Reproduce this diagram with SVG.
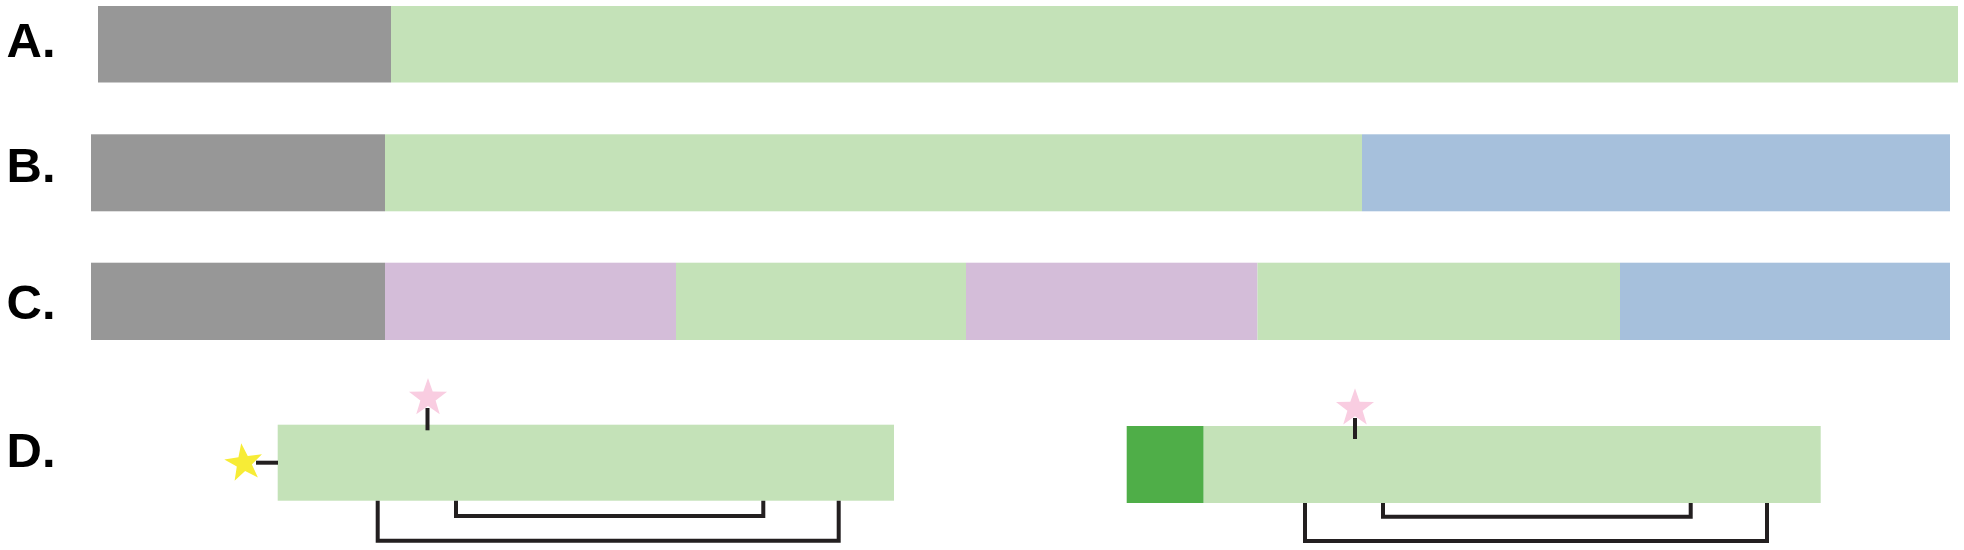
<svg xmlns="http://www.w3.org/2000/svg" width="1964" height="550" viewBox="0 0 1964 550">
<style>
.lbl{font-family:"Liberation Sans",Arial,sans-serif;font-weight:bold;font-size:49px;fill:#000}
.gray{fill:#979797}
.lg{fill:#c4e2b8}
.bl{fill:#a6c0dc}
.pu{fill:#d4bdd9}
.dg{fill:#4fae48}
.yel{fill:#f7ec36}
.pink{fill:#f9cde1}
.ln{fill:none;stroke:#231f20;stroke-width:4}
</style>
<defs>
<path id="star" d="M0,-20 L4.7,-6.47 L19.02,-6.18 L7.61,2.47 L11.76,16.18 L0,8 L-11.76,16.18 L-7.61,2.47 L-19.02,-6.18 L-4.7,-6.47 Z"/>
</defs>
<rect width="1964" height="550" fill="#fff"/>
<g id="rowA">
<text class="lbl" x="6.5" y="56.7">A.</text>
<rect class="gray" x="98" y="6" width="293" height="76.5"/>
<rect class="lg" x="391" y="6" width="1567" height="76.5"/>
</g>
<g id="rowB">
<text class="lbl" x="6.5" y="181.7">B.</text>
<rect class="gray" x="91" y="134.3" width="294" height="77"/>
<rect class="lg" x="385" y="134.3" width="977" height="77"/>
<rect class="bl" x="1362" y="134.3" width="588" height="77"/>
</g>
<g id="rowC">
<text class="lbl" x="6.5" y="318.6">C.</text>
<rect class="gray" x="91" y="262.7" width="294" height="77.3"/>
<rect class="pu" x="385" y="262.7" width="291" height="77.3"/>
<rect class="lg" x="676" y="262.7" width="290" height="77.3"/>
<rect class="pu" x="966" y="262.7" width="291.5" height="77.3"/>
<rect class="lg" x="1257.5" y="262.7" width="362.5" height="77.3"/>
<rect class="bl" x="1620" y="262.7" width="330" height="77.3"/>
</g>
<g id="rowD">
<text class="lbl" x="6.5" y="466.7">D.</text>
<g id="d-left">
<rect class="lg" x="277.7" y="424.7" width="616.3" height="76"/>
</g>
<g id="d-right">
<rect class="dg" x="1126.7" y="426" width="77" height="77"/>
<rect class="lg" x="1203.7" y="426" width="617" height="77"/>
</g>
<g id="star-yellow"><use href="#star" class="yel" transform="translate(244,463) rotate(-8)"/></g>
<g id="star-pink-left"><use href="#star" class="pink" transform="translate(428,398)"/></g>
<g id="star-pink-right"><use href="#star" class="pink" transform="translate(1355,408.3)"/></g>
</g>
<g id="connectors">
<line class="ln" x1="256" y1="462.7" x2="278" y2="462.7"/>
<line class="ln" x1="427.5" y1="408" x2="427.5" y2="430.3"/>
<line class="ln" x1="1355" y1="418" x2="1355" y2="439"/>
<polyline class="ln" points="377.7,500.7 377.7,540.7 838.7,540.7 838.7,500.7"/>
<polyline class="ln" points="456,500.7 456,516 763.3,516 763.3,500.7"/>
<polyline class="ln" points="1305,503 1305,541 1767,541 1767,503"/>
<polyline class="ln" points="1383,503 1383,516.7 1690.7,516.7 1690.7,503"/>
</g>
</svg>
